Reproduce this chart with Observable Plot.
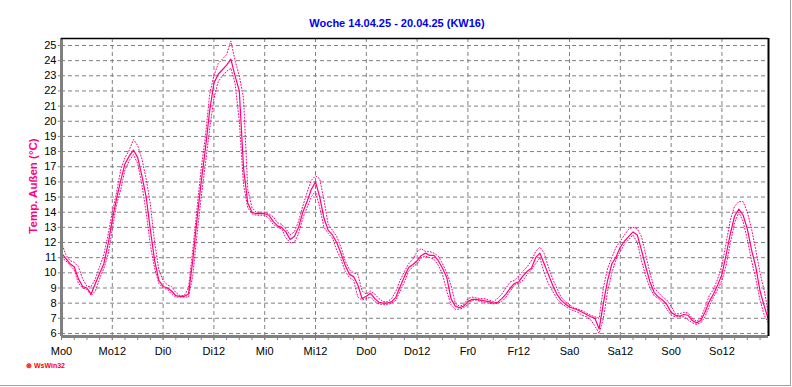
<!DOCTYPE html>
<html><head><meta charset="utf-8">
<script src="https://cdn.jsdelivr.net/npm/d3@7"></script>
<script src="https://cdn.jsdelivr.net/npm/@observablehq/plot@0.6"></script>
<style>
html,body{margin:0;padding:0;background:#fff;}
#wrap{position:relative;width:792px;height:387px;overflow:hidden;font-family:"Liberation Sans",Arial,sans-serif;}
#title{position:absolute;left:0;top:17px;width:794px;text-align:center;font-weight:bold;font-size:11px;color:#0000ee;}
#ylab{position:absolute;left:33px;top:186px;transform:translate(-50%,-50%) rotate(-90deg);white-space:nowrap;font-weight:bold;font-size:11.5px;color:#ff0080;}
#logo{position:absolute;left:26px;top:362px;font-size:7px;font-weight:bold;color:#ff0000;white-space:nowrap;}
#chart{position:absolute;left:0;top:0;}
#border{position:absolute;left:0;top:0;width:790px;height:385px;border-right:1px solid #a0a0a0;border-bottom:1px solid #a0a0a0;}
</style></head>
<body><div id="wrap"><div id="border"></div><div id="chart"></div>
<div id="title">Woche 14.04.25 - 20.04.25 (KW16)</div>
<div id="ylab">Temp. Außen (°C)</div>
<div id="logo">⊗ WsWin32</div></div>
<script>
const xLabels = ["Mo0","Mo12","Di0","Di12","Mi0","Mi12","Do0","Do12","Fr0","Fr12","Sa0","Sa12","So0","So12"];
const yTicks = [6,7,8,9,10,11,12,13,14,15,16,17,18,19,20,21,22,23,24,25];
const tempAvg = [11.3,10.95,10.6,10.4,9.6,9.1,9.0,8.6,9.3,9.95,10.6,11.9,13.5,14.9,16.1,17.2,17.7,18.1,17.6,16.4,15.0,12.8,10.8,9.5,
9.1,9.0,8.8,8.5,8.45,8.45,8.6,10.8,13.5,16.0,18.2,20.7,22.5,23.1,23.4,23.7,24.1,23.0,22.0,16.9,14.6,14.0,13.9,13.9,
13.9,13.8,13.4,13.1,13.0,12.7,12.2,12.4,13.0,14.0,14.7,15.5,16.0,15.0,13.6,12.8,12.5,12.0,11.3,10.5,9.9,9.75,9.2,8.3,
8.45,8.65,8.3,8.05,8.0,8.0,8.1,8.4,9.1,9.75,10.35,10.55,10.8,11.15,11.3,11.15,11.15,10.8,10.3,9.7,8.3,7.8,7.7,7.8,
8.1,8.25,8.25,8.2,8.15,8.1,8.0,8.05,8.3,8.6,9.0,9.3,9.4,9.8,10.1,10.3,11.0,11.3,10.6,9.9,9.2,8.6,8.2,7.95,
7.75,7.65,7.55,7.4,7.25,7.1,7.0,6.3,8.0,9.5,10.6,11.05,11.7,12.1,12.4,12.7,12.5,11.5,10.4,9.4,8.7,8.4,8.2,7.9,
7.4,7.2,7.15,7.25,7.2,6.85,6.7,6.85,7.4,8.1,8.6,9.2,9.9,11.2,12.6,13.75,14.2,13.8,12.9,11.5,10.4,8.8,7.8,6.9];
const tempMax = [12.0,11.2,10.8,10.7,10.4,9.6,9.1,9.1,9.6,10.4,11.2,12.5,14.0,15.3,16.8,17.6,18.1,18.8,18.4,17.5,16.2,14.5,12.0,10.2,
9.5,9.2,9.1,8.7,8.5,8.5,9.0,11.5,14.2,16.9,19.0,21.8,23.0,23.8,24.1,24.4,25.3,24.0,23.0,21.5,15.5,14.3,14.0,14.0,
14.0,13.9,13.7,13.3,13.2,12.9,12.5,12.7,13.4,14.4,15.3,16.1,16.4,16.2,14.8,13.2,12.8,12.4,11.7,10.8,10.2,10.0,9.9,8.8,
8.6,8.8,8.6,8.3,8.1,8.1,8.3,8.8,9.5,10.1,10.6,10.9,11.4,11.6,11.4,11.4,11.3,11.1,10.6,10.0,9.2,8.0,7.8,7.9,
8.3,8.4,8.35,8.3,8.3,8.2,8.1,8.3,8.6,9.0,9.4,9.5,9.8,10.1,10.4,10.8,11.4,11.7,11.3,10.4,9.6,9.0,8.4,8.1,
7.9,7.7,7.6,7.5,7.35,7.2,7.1,7.0,9.0,10.3,11.0,11.7,12.1,12.5,12.9,13.0,12.9,12.4,11.2,10.0,9.0,8.7,8.4,8.2,
7.8,7.3,7.3,7.4,7.35,7.0,6.8,7.0,7.7,8.5,8.9,9.6,10.5,12.0,13.5,14.4,14.7,14.7,14.0,12.9,11.5,10.0,8.8,7.3];
const tempMin = [11.0,10.8,10.5,10.2,9.3,9.0,8.9,8.5,8.8,9.6,10.3,11.2,12.9,14.5,15.5,16.8,17.4,17.8,17.2,15.8,14.0,11.8,10.3,9.3,
9.0,8.9,8.6,8.4,8.4,8.4,8.4,9.8,12.5,15.0,17.2,19.5,21.5,22.6,23.0,23.3,23.5,22.5,20.0,15.8,14.3,13.9,13.8,13.8,
13.8,13.6,13.2,13.0,12.9,12.3,12.0,12.0,12.6,13.6,14.3,15.0,15.4,14.3,13.0,12.6,12.3,11.5,10.9,10.1,9.7,9.5,8.4,8.2,
8.3,8.4,8.1,7.95,7.9,7.9,8.0,8.2,8.8,9.4,10.1,10.4,10.6,11.0,11.1,11.0,10.9,10.5,9.9,8.8,7.9,7.6,7.6,7.7,
7.9,8.2,8.2,8.1,8.05,8.0,7.95,8.0,8.1,8.4,8.8,9.2,9.3,9.5,9.9,10.2,10.6,11.0,10.0,9.3,8.8,8.3,8.0,7.8,
7.6,7.5,7.4,7.2,7.1,6.9,6.5,6.0,7.0,8.8,10.0,10.9,11.4,11.9,12.2,12.5,12.0,10.8,9.8,9.0,8.5,8.3,8.0,7.6,
7.2,7.1,7.1,7.1,6.9,6.7,6.6,6.7,7.1,7.8,8.4,8.9,9.5,10.5,12.0,13.3,14.0,13.4,12.2,10.8,9.6,8.2,7.2,6.7];

const hours = tempAvg.map((_, i) => i);
const majorHours = xLabels.map((_, i) => i * 12);
const minorHours = d3.range(0, hours.length, 3);
const toRows = arr => arr.map((v, i) => ({h: hours[i], t: v}));
const pink = "#ff0080";
const grid = {stroke: "#808080", strokeOpacity: 1, strokeDasharray: "4,3"};
const xMax = hours[hours.length - 1];
const yDom = [5.8, 25.46];

const chart = Plot.plot({
  width: 792, height: 387,
  marginLeft: 61, marginRight: 24, marginTop: 38, marginBottom: 51,
  style: {fontFamily: "'Liberation Sans', Arial, sans-serif", fontSize: "11px", color: "#000", background: "transparent"},
  x: {domain: [0, xMax]},
  y: {domain: yDom},
  marks: [
    Plot.gridY(yTicks, grid),
    Plot.gridX(majorHours.slice(1), grid),
    Plot.line(toRows(tempMax), {x: "h", y: "t", stroke: pink, strokeWidth: 1, strokeDasharray: "1,2"}),
    Plot.line(toRows(tempMin), {x: "h", y: "t", stroke: pink, strokeWidth: 1, strokeDasharray: "1,2"}),
    Plot.line(toRows(tempAvg), {x: "h", y: "t", stroke: pink, strokeWidth: 1.2}),
    Plot.axisX(minorHours, {tickSize: 4, tickFormat: () => "", stroke: "#808080", label: null}),
    Plot.axisX(majorHours, {tickSize: 4, tickPadding: 7, tickFormat: (d) => xLabels[d / 12], stroke: "#808080", fill: "#000", label: null, fontSize: 11}),
    Plot.axisY(yTicks, {tickSize: 3, tickPadding: 2, stroke: "#808080", fill: "#000", label: null, fontSize: 11}),
    Plot.ruleX([0], {stroke: "#808080", strokeWidth: 3}),
    Plot.ruleY([yDom[0]], {stroke: "#808080", strokeWidth: 3}),
    Plot.ruleY([yDom[1]], {stroke: "#000", strokeWidth: 1.5}),
    Plot.ruleX([xMax], {stroke: "#000", strokeWidth: 2})
  ]
});
document.getElementById("chart").appendChild(chart);
</script></body></html>
